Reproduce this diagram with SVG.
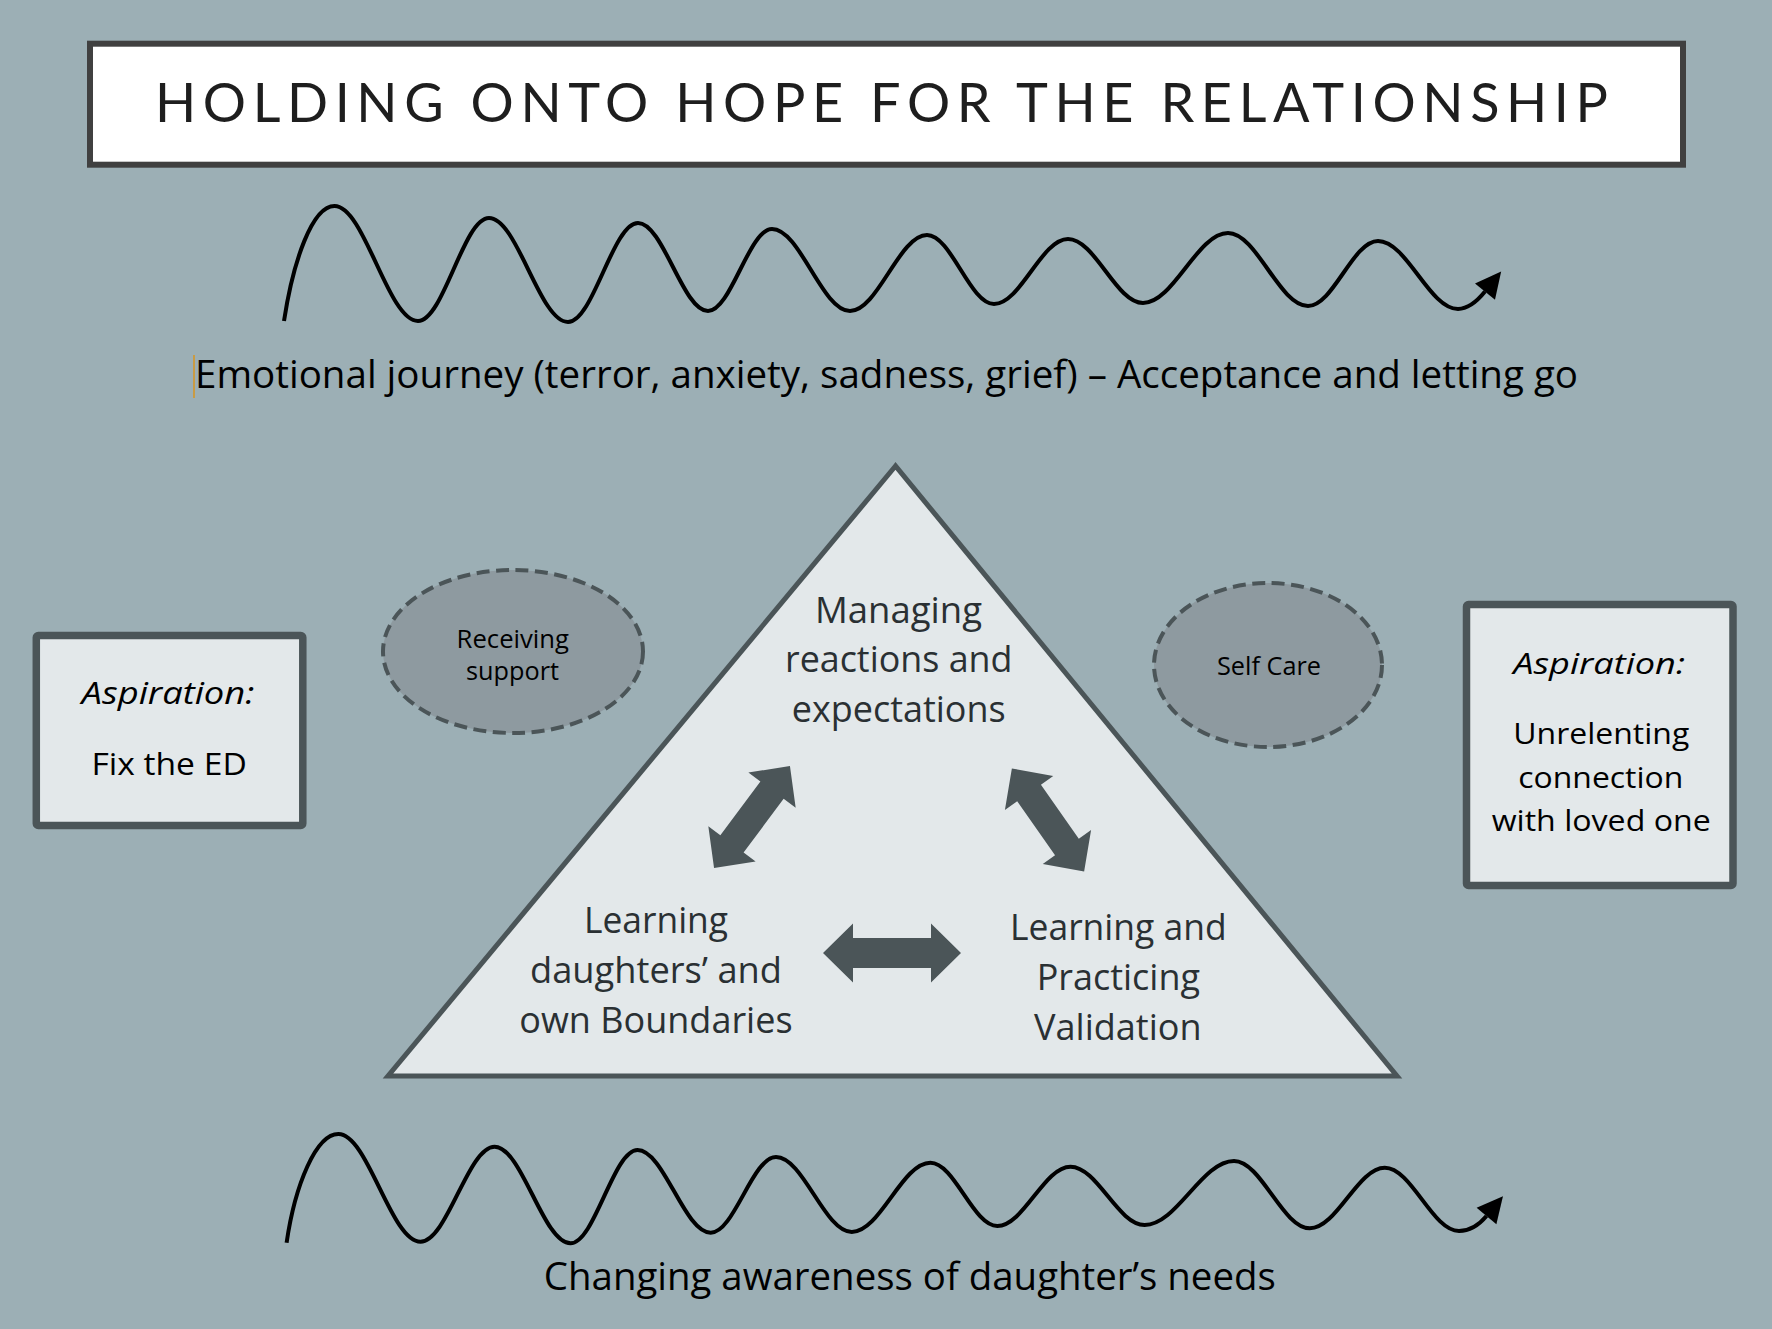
<svg xmlns="http://www.w3.org/2000/svg" width="1772" height="1329" viewBox="0 0 1772 1329">
<defs>
<style>
.bg{fill:#9cafb5}
.box{fill:#e3e8ea;stroke:#4b5558;stroke-width:7.5;stroke-linejoin:round}
.tri{fill:#e3e8ea;stroke:#4b5558;stroke-width:5;stroke-linejoin:miter}
.ell{fill:#8e9aa0;stroke:#4b5558;stroke-width:4;stroke-dasharray:13 6.5}
.darrow{fill:#4b5558}
.wave{fill:none;stroke:#000;stroke-width:4;stroke-linecap:butt}
.t{font-family:"Open Sans","Noto Sans","Liberation Sans",sans-serif;fill:#000}
.tt{font-family:"Open Sans","Noto Sans","Liberation Sans",sans-serif;fill:#2a3033;font-size:36.5px}
.it{font-style:italic}
.title{font-family:Lato,"Open Sans","Liberation Sans",sans-serif;font-size:54px;fill:#1e1e1e}
</style>
<marker id="ah" markerUnits="userSpaceOnUse" markerWidth="30" markerHeight="30" viewBox="-2 -14 28 28" refX="0" refY="0" orient="auto">
<path d="M0,-12 L24,0 L0,12 z" fill="#000"/>
</marker>
</defs>
<rect class="bg" x="0" y="0" width="1772" height="1329"/>

<g id="title">
<rect x="90" y="43.7" width="1593" height="121" fill="#ffffff" stroke="#404040" stroke-width="6"/>
<text class="title" x="155" y="122" textLength="1453" lengthAdjust="spacing">HOLDING ONTO HOPE FOR THE RELATIONSHIP</text>
</g>

<g id="emotional-journey">
<path class="wave" marker-end="url(#ah)" d="M284,321 C293,262 312,206 334.5,206 C364.6,206 387.9,321 418,321 C443.6,321 463.4,218 489,218 C517.4,218 539.6,322 568,322 C593.2,322 612.8,223 638,223 C663.2,223 682.8,311 708,311 C731,311 749,229 772,229 C800,229 822,311 850,311 C877.7,311 899.3,235 927,235 C951.1,235 969.9,304 994,304 C1020.6,304 1041.4,239 1068,239 C1095,239 1116,303 1143,303 C1173.6,303 1197.4,233 1228,233 C1256.8,233 1279.2,306 1308,306 C1333.2,306 1352.8,241 1378,241 C1406.8,241 1429.2,309 1458,309 C1468,309 1477,301.5 1485,291.6"/>
<line x1="194" y1="355" x2="194" y2="398" stroke="#d9951f" stroke-width="1.5"/>
<text class="t" x="195" y="388.3" font-size="37.5" textLength="1383" lengthAdjust="spacingAndGlyphs">Emotional journey (terror, anxiety, sadness, grief) – Acceptance and letting go</text>
</g>

<g id="aspiration-left">
<rect class="box" x="36.3" y="635.5" width="266.5" height="190" rx="2"/>
<text class="t it" x="81.6" y="704" font-size="31" textLength="172.8" lengthAdjust="spacingAndGlyphs">Aspiration:</text>
<text class="t" x="91.4" y="775" font-size="31" textLength="155.4" lengthAdjust="spacingAndGlyphs">Fix the ED</text>
</g>

<g id="receiving-support">
<ellipse class="ell" cx="513" cy="651.5" rx="130" ry="81.5"/>
<text class="t" x="456.6" y="648.3" font-size="25.7" fill="#111" textLength="112.4" lengthAdjust="spacingAndGlyphs">Receiving</text>
<text class="t" x="466" y="680" font-size="25.7" fill="#111" textLength="93" lengthAdjust="spacingAndGlyphs">support</text>
</g>

<g id="self-care">
<ellipse class="ell" cx="1268" cy="665" rx="114" ry="82"/>
<text class="t" x="1217" y="675" font-size="26" fill="#111" textLength="104" lengthAdjust="spacingAndGlyphs">Self Care</text>
</g>

<g id="aspiration-right">
<rect class="box" x="1466.5" y="604.5" width="266.5" height="281" rx="2"/>
<text class="t it" x="1513.3" y="674" font-size="30" textLength="171.7" lengthAdjust="spacingAndGlyphs">Aspiration:</text>
<text class="t" x="1513.3" y="744" font-size="30" textLength="176" lengthAdjust="spacingAndGlyphs">Unrelenting</text>
<text class="t" x="1518.3" y="788.3" font-size="30" textLength="165" lengthAdjust="spacingAndGlyphs">connection</text>
<text class="t" x="1491.7" y="830.7" font-size="30" textLength="219" lengthAdjust="spacingAndGlyphs">with loved one</text>
</g>

<g id="triangle">
<polygon class="tri" points="895.5,466 388,1076 1397,1076"/>
</g>

<g id="managing">
<text class="tt" x="815" y="623" textLength="167" lengthAdjust="spacingAndGlyphs">Managing</text>
<text class="tt" x="785" y="672" textLength="227.5" lengthAdjust="spacingAndGlyphs">reactions and</text>
<text class="tt" x="791.7" y="722" textLength="214" lengthAdjust="spacingAndGlyphs">expectations</text>
</g>

<g id="boundaries">
<text class="tt" x="584" y="933" textLength="144" lengthAdjust="spacingAndGlyphs">Learning</text>
<text class="tt" x="530" y="983" textLength="252" lengthAdjust="spacingAndGlyphs">daughters’ and</text>
<text class="tt" x="519.3" y="1033" textLength="273.3" lengthAdjust="spacingAndGlyphs">own Boundaries</text>
</g>

<g id="validation">
<text class="tt" x="1010" y="940" textLength="216.7" lengthAdjust="spacingAndGlyphs">Learning and</text>
<text class="tt" x="1036.7" y="990" textLength="163.3" lengthAdjust="spacingAndGlyphs">Practicing</text>
<text class="tt" x="1034" y="1040" textLength="167.6" lengthAdjust="spacingAndGlyphs">Validation</text>
</g>

<g id="connectors">
<path class="darrow" transform="translate(752,817) rotate(-53.3)" d="M-63.5,0 L-33.5,-29.5 L-33.5,-14.5 L33.5,-14.5 L33.5,-29.5 L63.5,0 L33.5,29.5 L33.5,14.5 L-33.5,14.5 L-33.5,29.5 Z"/>
<path class="darrow" transform="translate(1048,820) rotate(55)" d="M-63,0 L-33,-29.5 L-33,-14.5 L33,-14.5 L33,-29.5 L63,0 L33,29.5 L33,14.5 L-33,14.5 L-33,29.5 Z"/>
<path class="darrow" d="M823,953 L853,923.5 L853,938 L931,938 L931,923.5 L961,953 L931,982.5 L931,968 L853,968 L853,982.5 Z"/>
</g>

<g id="changing-awareness">
<path class="wave" marker-end="url(#ah)" d="M286.6,1242.7 C295,1185 316,1134 338.4,1134 C368,1134 390.9,1241.7 420.5,1241.7 C447.2,1241.7 467.9,1146.7 494.6,1146.7 C521.9,1146.7 543.2,1243.3 570.5,1243.3 C594.6,1243.3 613.4,1150 637.5,1150 C663.9,1150 684.3,1232.7 710.7,1232.7 C734.2,1232.7 752.5,1157 776,1157 C803.3,1157 824.5,1232 851.8,1232 C880.1,1232 902.1,1162.7 930.4,1162.7 C954.5,1162.7 973.2,1226 997.3,1226 C1023.7,1226 1044.1,1166.7 1070.5,1166.7 C1097.2,1166.7 1117.9,1225 1144.6,1225 C1176.8,1225 1201.8,1161 1234,1161 C1261.3,1161 1282.5,1228.3 1309.8,1228.3 C1336.8,1228.3 1357.8,1167.7 1384.8,1167.7 C1411.5,1167.7 1432.3,1231 1459,1231 C1469,1231 1479,1225 1486.5,1216"/>
<text class="t" x="543.8" y="1290" font-size="38" textLength="732" lengthAdjust="spacingAndGlyphs">Changing awareness of daughter’s needs</text>
</g>
</svg>
